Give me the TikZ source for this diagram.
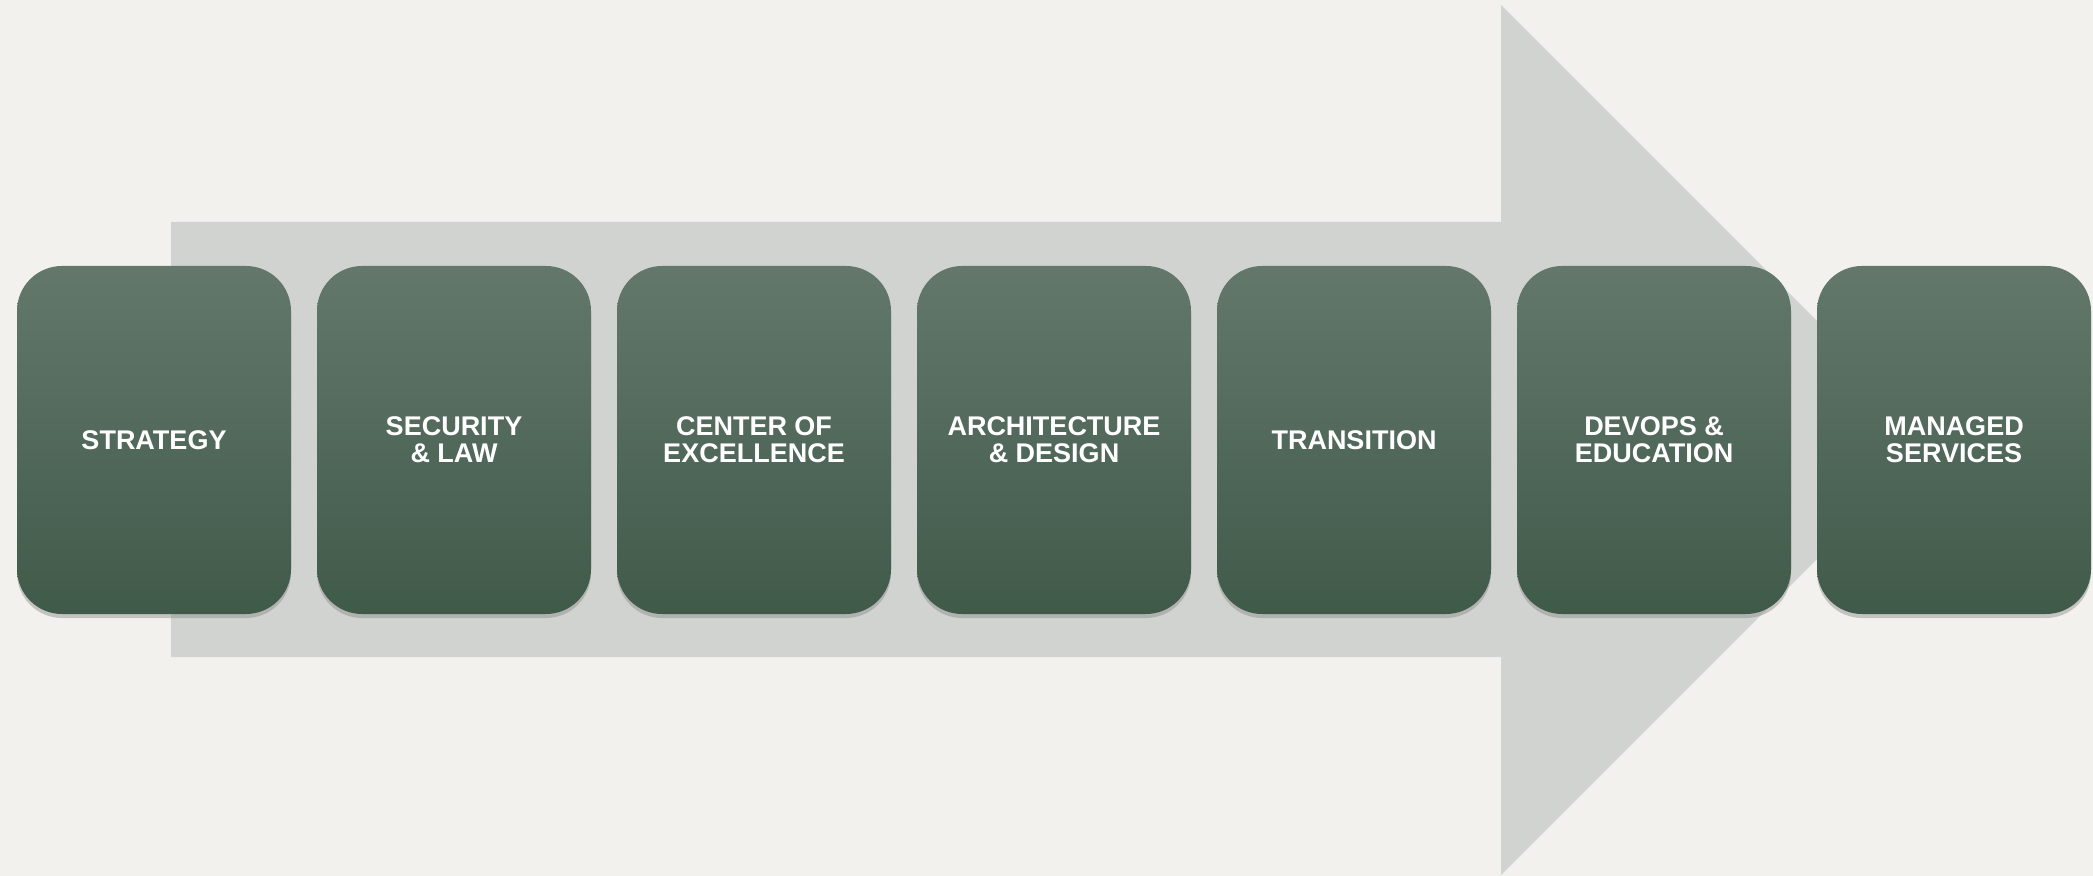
\documentclass[tikz,border=0pt]{standalone}
\usepackage{fontspec}
\setmainfont{Liberation Sans}
\usetikzlibrary{shadows}
\definecolor{B}{RGB}{242,241,237}
\definecolor{A}{RGB}{209,211,209}
\definecolor{T}{RGB}{99,120,107}
\definecolor{D}{RGB}{64,90,74}
\newcommand{\stagefont}{\fontsize{13.5}{13.6}\selectfont\bfseries}
\begin{document}
\begin{tikzpicture}[x=0.5pt,y=-0.5pt,
  stage/.style={rounded corners=22.5pt, minimum width=137pt, minimum height=174pt,
    top color=T, bottom color=D, text=white, align=center, font=\stagefont,
    drop shadow={opacity=0.4, shadow xshift=0pt, shadow yshift=-2pt}}]
\fill[B] (0,0) rectangle (2093,876);
\fill[A] (171,222)--++(1330,0)--++(0,-217)--(1936,440)--(1501,875)--++(0,-218)--(171,657)--cycle;
\foreach \n/\t [count=\i from 0] in {str/STRATEGY, sec/SECURITY\\\& LAW, coe/CENTER OF\\EXCELLENCE,
    arc/ARCHITECTURE\\\& DESIGN, tra/TRANSITION, dev/DEVOPS \&\\EDUCATION, man/MANAGED\\SERVICES}
  \node[stage] (\n) at (154+300*\i,440) {\t};
\end{tikzpicture}
\end{document}
